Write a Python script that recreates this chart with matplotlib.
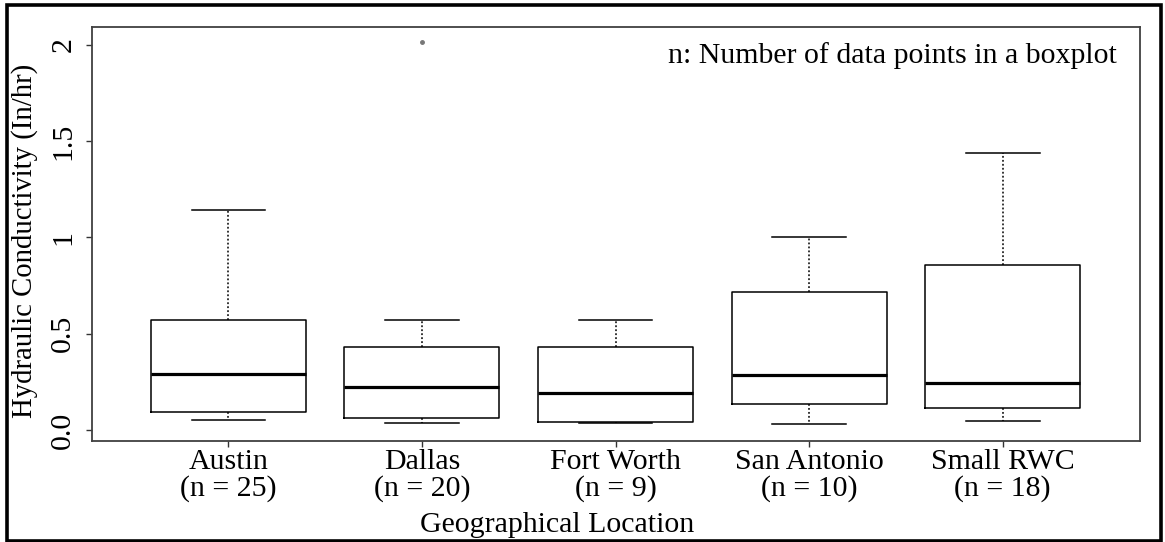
import matplotlib
matplotlib.use("Agg")
import matplotlib.pyplot as plt
from matplotlib.patches import Rectangle

# ---- data ----
locations = ["Austin", "Dallas", "Fort Worth", "San Antonio", "Small RWC"]
counts = [25, 20, 9, 10, 18]
whisker_low = [0.050, 0.035, 0.035, 0.031, 0.048]
q1 = [0.092, 0.061, 0.040, 0.135, 0.114]
medians = [0.289, 0.222, 0.190, 0.287, 0.246]
q3 = [0.570, 0.433, 0.433, 0.715, 0.857]
whisker_high = [1.143, 0.571, 0.571, 1.004, 1.441]
outliers = [[], [2.016], [], [], []]
yticks = [0.0, 0.5, 1.0, 1.5, 2.0]
ytick_labels = ["0.0", "0.5", "1", "1.5", "2"]

W, H = 1165, 542
FS = 21.5
plt.rcParams['font.family'] = ['Liberation Serif', 'DejaVu Serif']
fig = plt.figure(figsize=(W / 100, H / 100), dpi=100)
ax = fig.add_axes([92 / W, 1 - 440.5 / H, (1140 - 92) / W, (440.5 - 26.7) / H])

stats = []
for i in range(len(locations)):
    stats.append(dict(whislo=whisker_low[i], q1=q1[i], med=medians[i],
                      q3=q3[i], whishi=whisker_high[i], fliers=outliers[i],
                      label=f"{locations[i]}\n(n = {counts[i]})"))

positions = list(range(1, len(locations) + 1))
ax.bxp(stats, positions=positions, widths=0.8, showfliers=True,
       boxprops=dict(color='black', linewidth=1.1),
       medianprops=dict(color='black', linewidth=2.3),
       whiskerprops=dict(color='black', linewidth=1.1, linestyle=(0, (1.2, 1.4))),
       capprops=dict(color='black', linewidth=1.1),
       capwidths=0.38,
       flierprops=dict(marker='o', markersize=2.5, markerfacecolor='#777777',
                       markeredgecolor='#777777'))

ax.set_xlim(0.296, 5.709)
ax.set_ylim(-0.0545, 2.095)

ax.set_yticks(yticks)
ax.set_yticklabels(ytick_labels, rotation=90, va='center', fontsize=FS)
ax.tick_params(axis='y', length=4.3, width=1.0, pad=7, color='#333333')
ax.tick_params(axis='x', length=4.3, width=1.0, pad=2, color='#333333',
               labelsize=FS)
for lab in ax.get_xticklabels():
    lab.set_linespacing(0.97)

for sp in ax.spines.values():
    sp.set_color('#404040')
    sp.set_linewidth(1.3)

fig.text(668 / W, 1 - 63 / H, "n: Number of data points in a boxplot",
         ha='left', va='baseline', fontsize=FS)
fig.text(557 / W, 1 - 525 / H, "Geographical Location", ha='center',
         va='center', fontsize=FS)
fig.text(25 / W, 1 - 241 / H, "Hydraulic Conductivity (In/hr)", ha='center',
         va='center', rotation=90, fontsize=20.7)

fig.patches.append(Rectangle((6.5 / W, 1.5 / H), (1161 - 6.5) / W, (535.5) / H,
                             transform=fig.transFigure, fill=False,
                             edgecolor='black', linewidth=2.6))

fig.savefig("out.png", dpi=100, facecolor='white')
